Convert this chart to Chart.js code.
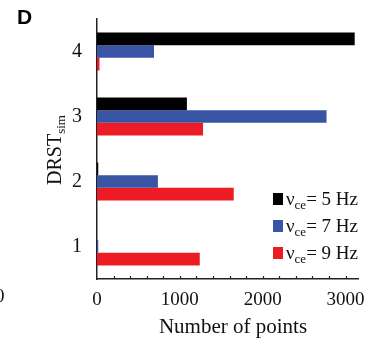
<!DOCTYPE html>
<html>
<head>
<meta charset="utf-8">
<script src="https://cdn.jsdelivr.net/npm/chart.js@4"></script>
<style>
html, body { margin: 0; padding: 0; background: #fff; }
#wrap { width: 374px; height: 340px; }
</style>
</head>
<body>
<div id="wrap"><canvas id="Bar_Chart" width="374" height="340"></canvas></div>
<script>
// DRST_sim categories, top to bottom
const categories = ['4', '3', '2', '1'];
const freqLabels = ['5', '7', '9'];
const points5Hz = [3110, 1085, 15, 0];
const points7Hz = [688, 2770, 735, 15];
const points9Hz = [30, 1280, 1650, 1240];
const xTicks = [0, 1000, 2000, 3000];
const minorStep = 200;
const colors = ['#000000', '#3953a5', '#ed1c24'];

const serif = '"Liberation Serif", "Times New Roman", serif';

// draws a run of text pieces, some of them subscript
function drawRuns(ctx, runs, x, y) {
    let cx = x;
    runs.forEach(r => {
        ctx.font = r.size + 'px ' + serif;
        ctx.fillText(r.t, cx, y + (r.dy || 0));
        cx += ctx.measureText(r.t).width;
    });
    return cx - x;
}
function runsWidth(ctx, runs) {
    let w = 0;
    runs.forEach(r => {
        ctx.font = r.size + 'px ' + serif;
        w += ctx.measureText(r.t).width;
    });
    return w;
}

const decorPlugin = {
    id: 'decor',
    afterDraw(chart) {
        const ctx = chart.ctx;
        const xs = chart.scales.x;
        const area = chart.chartArea;
        ctx.save();
        ctx.fillStyle = '#111';
        ctx.strokeStyle = '#222';
        ctx.lineWidth = 1.2;

        // small inward ticks on x axis
        for (let v = minorStep; v <= xs.max; v += minorStep) {
            const px = Math.round(xs.getPixelForValue(v)) + 0.5;
            ctx.beginPath();
            ctx.moveTo(px, area.bottom);
            ctx.lineTo(px, area.bottom - 3);
            ctx.stroke();
        }

        // x title
        ctx.textBaseline = 'alphabetic';
        ctx.font = '21px ' + serif;
        ctx.textAlign = 'center';
        ctx.fillText('Number of points', 233, 333);

        // y title, rotated
        ctx.textAlign = 'left';
        const yRuns = [{ t: 'DRST', size: 20 }, { t: 'sim', size: 13, dy: 4 }];
        const tw = runsWidth(ctx, yRuns);
        ctx.save();
        ctx.translate(61, 150);
        ctx.rotate(-Math.PI / 2);
        drawRuns(ctx, yRuns, -tw / 2, 0);
        ctx.restore();

        // legend
        const rows = [199, 226, 253];
        rows.forEach((cy, i) => {
            ctx.fillStyle = colors[i];
            ctx.fillRect(273, cy - 6, 10, 12);
            ctx.fillStyle = '#111';
            drawRuns(ctx, [
                { t: 'ν', size: 19 },
                { t: 'ce', size: 13, dy: 4 },
                { t: '= ' + freqLabels[i] + ' Hz', size: 19 }
            ], 286, cy + 6);
        });

        // panel letter
        ctx.font = 'bold 21px "Liberation Sans", Arial, sans-serif';
        ctx.fillStyle = '#000';
        ctx.fillText('D', 17, 24);

        // stray tick label from the neighbouring panel
        ctx.font = '19px ' + serif;
        ctx.fillStyle = '#111';
        ctx.fillText('0', -5, 302);
        ctx.restore();
    }
};

const ctx = document.getElementById('Bar_Chart').getContext('2d');
new Chart(ctx, {
    type: 'bar',
    data: {
        labels: categories,
        datasets: [points5Hz, points7Hz, points9Hz].map((vals, i) => ({
            label: freqLabels[i] + ' Hz',
            data: vals,
            backgroundColor: colors[i],
            borderWidth: 0,
            barPercentage: 1.0,
            categoryPercentage: 0.585
        }))
    },
    options: {
        indexAxis: 'y',
        responsive: false,
        animation: false,
        layout: { padding: { top: 18, right: 16, left: 0, bottom: 0 } },
        plugins: {
            legend: { display: false },
            tooltip: { enabled: false }
        },
        scales: {
            x: {
                type: 'linear',
                min: 0,
                max: 3150,
                afterBuildTicks: scale => {
                    scale.ticks = xTicks.map(v => ({ value: v }));
                },
                afterFit: scale => { scale.height = 61; },
                grid: { display: false },
                border: { display: true, color: '#222', width: 1.5 },
                ticks: {
                    color: '#111',
                    font: { family: serif, size: 19 },
                    padding: 2,
                    maxRotation: 0,
                    callback: value => String(value)
                }
            },
            y: {
                type: 'category',
                afterFit: scale => { scale.width = 97; },
                grid: { display: false },
                border: { display: true, color: '#222', width: 1.5 },
                ticks: {
                    color: '#111',
                    font: { family: serif, size: 20 },
                    padding: 7
                }
            }
        }
    },
    plugins: [decorPlugin]
});
</script>
</body>
</html>
